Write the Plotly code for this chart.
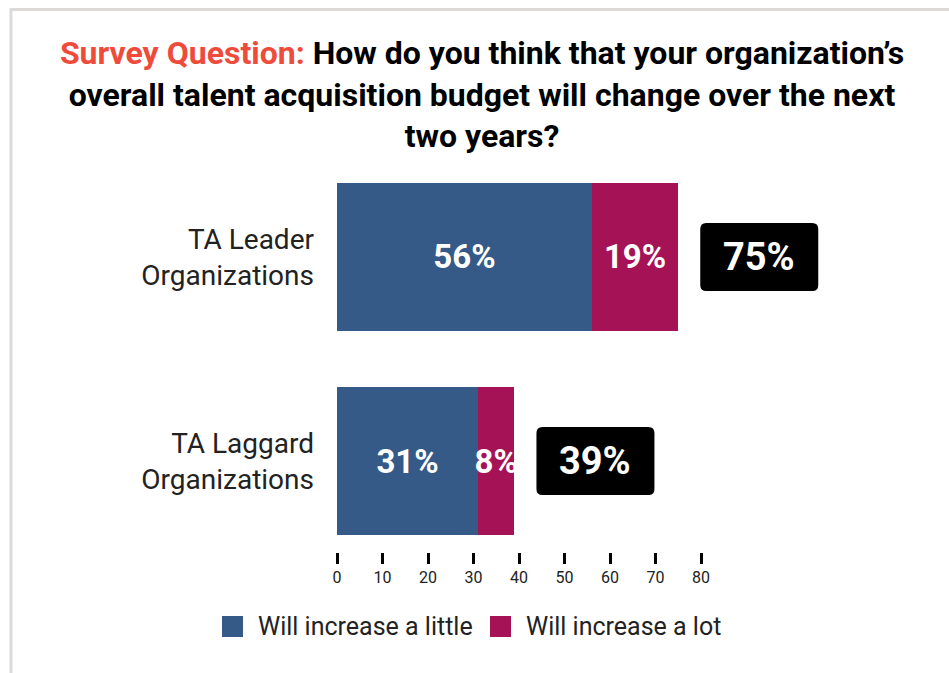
import plotly.graph_objects as go

# Survey results: share of organizations expecting their TA budget to rise
groups = ["TA Leader<br>Organizations", "TA Laggard<br>Organizations"]
increase_little = [56, 31]
increase_lot = [19, 8]
series_names = ["Will increase a little", "Will increase a lot"]
x_ticks = [0, 10, 20, 30, 40, 50, 60, 70, 80]

BLUE = "#355a88"
MAGENTA = "#a51356"
TEXT = "#222222"
FONT = "Roboto"

W, H = 949, 673
ML, MR, MT, MB = 337, 119, 166, 121
PW, PH = W - ML - MR, H - MT - MB
PX_PER_UNIT = 364 / 80          # 0..80 spans 364 px
X_MAX = PW / PX_PER_UNIT        # extra room on the right for the total badges

ypos = list(range(len(groups)))
totals = [a + b for a, b in zip(increase_little, increase_lot)]

fig = go.Figure()
for name, vals, color in [(series_names[0], increase_little, BLUE),
                          (series_names[1], increase_lot, MAGENTA)]:
    fig.add_trace(go.Bar(
        y=ypos, x=vals, name=name, orientation="h",
        marker=dict(color=color, line=dict(width=0)),
        width=0.725,
        text=[f"{v}%" for v in vals], texttemplate="%{text}",
        textposition="inside", insidetextanchor="middle", textangle=0,
        textfont=dict(family=FONT, size=33, color="white", weight=700),
        showlegend=False, cliponaxis=False,
    ))


def px_to_paper_x(px):
    return (px - ML) / PW


def px_to_paper_y(py):
    return (H - MB - py) / PH


shapes = []
annotations = []

# Black rounded badges with the combined total to the right of each bar
badge = ("M 28,-34 L 134,-34 Q 140,-34 140,-28 L 140,28 Q 140,34 134,34 "
         "L 28,34 Q 22,34 22,28 L 22,-28 Q 22,-34 28,-34 Z")
for yi, tot in zip(ypos, totals):
    shapes.append(dict(
        type="path", xref="x", yref="y", xsizemode="pixel", ysizemode="pixel",
        xanchor=tot, yanchor=yi, path=badge,
        fillcolor="black", line=dict(width=0), layer="above",
    ))
    annotations.append(dict(
        x=tot, y=yi, xref="x", yref="y", xshift=81, showarrow=False,
        text=f"{tot}%", font=dict(family=FONT, size=38, color="white", weight=700),
        xanchor="center", yanchor="middle",
    ))

# Light grey frame along the top and left edges
frame = "#dcd9d9"
shapes.append(dict(type="line", xref="paper", yref="paper",
                   x0=px_to_paper_x(11), x1=px_to_paper_x(960),
                   y0=px_to_paper_y(9.5), y1=px_to_paper_y(9.5),
                   line=dict(color=frame, width=3)))
shapes.append(dict(type="line", xref="paper", yref="paper",
                   x0=px_to_paper_x(11), x1=px_to_paper_x(11),
                   y0=px_to_paper_y(8), y1=px_to_paper_y(680),
                   line=dict(color=frame, width=3)))

# Legend: coloured squares with labels
legend_items = [(series_names[0], BLUE, 222), (series_names[1], MAGENTA, 490)]
for name, color, lx in legend_items:
    shapes.append(dict(type="rect", xref="paper", yref="paper",
                       x0=px_to_paper_x(lx), x1=px_to_paper_x(lx + 21),
                       y0=px_to_paper_y(637), y1=px_to_paper_y(616),
                       fillcolor=color, line=dict(width=0)))
    annotations.append(dict(
        x=px_to_paper_x(lx + 34), y=px_to_paper_y(626.5), xref="paper", yref="paper",
        text=name, showarrow=False, xanchor="left", yanchor="middle",
        font=dict(family=FONT, size=25, color=TEXT),
    ))

title = ("<span style='color:#ee4b3a'>Survey Question:</span> How do you think that your "
         "organization’s<br>overall talent acquisition budget will change over the next<br>"
         "two years?")

fig.update_layout(
    width=W, height=H,
    margin=dict(l=ML, r=MR, t=MT, b=MB, pad=0),
    paper_bgcolor="white", plot_bgcolor="white",
    barmode="stack",
    title=dict(text=title, x=482 / W, xref="container", xanchor="center",
               y=1 - 64 / H, yref="container", yanchor="middle",
               font=dict(family=FONT, size=32, color="black", weight=700)),
    xaxis=dict(range=[0, X_MAX], tickvals=x_ticks, showgrid=False, zeroline=False,
               showline=False, ticks="outside", ticklen=11, tickwidth=3,
               tickcolor="black", tickfont=dict(family=FONT, size=16, color=TEXT)),
    yaxis=dict(range=[len(groups) - 1 + 0.446, -0.446], tickvals=ypos, ticktext=groups,
               showgrid=False, zeroline=False, showline=False, ticks="",
               ticklabelstandoff=22,
               tickfont=dict(family=FONT, size=28, color=TEXT)),
    shapes=shapes, annotations=annotations,
    uniformtext=dict(mode="show", minsize=33),
    showlegend=False,
)

fig.write_html("out.html")
